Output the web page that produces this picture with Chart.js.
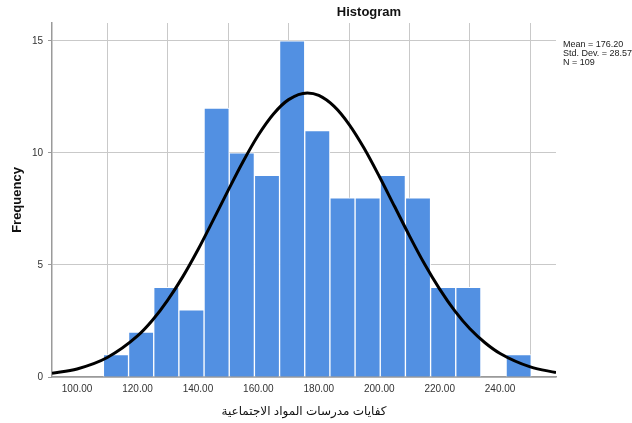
<!DOCTYPE html>
<html>
<head>
<meta charset="utf-8">
<script src="https://cdn.jsdelivr.net/npm/chart.js@4.4.1/dist/chart.umd.min.js"></script>
<style>
  html, body { margin: 0; padding: 0; background: #fff; }
  #wrap { width: 632px; height: 423px; position: relative; }
</style>
</head>
<body>
<div id="wrap"><canvas id="hist"></canvas></div>
<script>
// bin centres (width about 8.33) and their counts
const binCenters = [112.87, 121.2, 129.53, 137.86, 146.19, 154.52, 162.85, 171.18, 179.51,
  187.84, 196.17, 204.5, 212.83, 221.16, 229.49, 237.82, 246.15];
const binCounts = [1, 2, 4, 3, 12, 10, 9, 15, 11, 8, 8, 9, 8, 4, 4, 0, 1];

// normal curve
const curveX = [91.7, 100, 110, 120, 125, 130, 135, 140, 145, 150, 155, 160, 165, 170, 176.2,
  180, 185, 190, 195, 200, 205, 210, 215, 220, 225, 230, 235, 240, 250, 258.5];
const curveY = [0.17, 0.36, 0.87, 1.83, 2.54, 3.43, 4.48, 5.68, 6.99, 8.33, 9.63, 10.8, 11.74, 12.38, 12.68,
  12.57, 12.09, 11.28, 10.21, 8.96, 7.63, 6.3, 5.04, 3.92, 2.95, 2.15, 1.53, 1.05, 0.45, 0.2];

const xTicks = [100, 120, 140, 160, 180, 200, 220, 240];
const yTicks = [0, 5, 10, 15];
const statsLines = ["Mean = 176.20", "Std. Dev. = 28.57", "N = 109"];

const gridGray = "#c9c9c9";
const font = "'Liberation Sans', Arial, 'DejaVu Sans', sans-serif";

const textPlugin = {
  id: "texts",
  afterDraw(chart) {
    const ctx = chart.ctx;
    ctx.save();
    ctx.fillStyle = "#111";
    ctx.font = "bold 13px " + font;
    ctx.textAlign = "center";
    ctx.textBaseline = "middle";
    ctx.fillText("Histogram", 369, 12);
    ctx.font = "9px " + font;
    ctx.textAlign = "left";
    ctx.fillStyle = "#222";
    statsLines.forEach((s, i) => ctx.fillText(s, 563, 45 + i * 9));
    ctx.restore();
  },
};

new Chart(document.getElementById("hist"), {
  type: "bar",
  data: {
    datasets: [
      {
        type: "line",
        data: curveX.map((x, i) => ({ x, y: curveY[i] })),
        borderColor: "#000",
        borderWidth: 3,
        pointRadius: 0,
        cubicInterpolationMode: "monotone",
        order: 0,
      },
      {
        type: "bar",
        data: binCenters.map((x, i) => ({ x, y: binCounts[i] })),
        backgroundColor: "#5290e2",
        borderColor: "#ffffff",
        borderWidth: 1,
        borderSkipped: "bottom",
        categoryPercentage: 1,
        barPercentage: 1,
        order: 1,
      },
    ],
  },
  options: {
    responsive: true,
    maintainAspectRatio: false,
    animation: false,
    layout: { padding: { top: 23, right: 76, left: 0, bottom: 0 } },
    plugins: { legend: { display: false }, tooltip: { enabled: false } },
    scales: {
      x: {
        type: "linear",
        offset: false,
        min: 91.7,
        max: 258.5,
        afterBuildTicks: (s) => { s.ticks = xTicks.map((v) => ({ value: v })); },
        afterFit: (s) => { s.height = 46; },
        grid: { color: gridGray, lineWidth: 1, drawTicks: false },
        border: { color: "#9a9a9a", width: 1.5 },
        ticks: {
          padding: 6,
          color: "#333",
          font: { family: font, size: 10 },
          callback: (v) => v.toFixed(2),
          maxRotation: 0,
        },
        title: {
          display: true,
          text: "كفايات مدرسات المواد الاجتماعية",
          color: "#111",
          font: { family: font, size: 12 },
          padding: { top: 8 },
        },
      },
      y: {
        min: 0,
        max: 15.8,
        afterBuildTicks: (s) => { s.ticks = yTicks.map((v) => ({ value: v })); },
        afterFit: (s) => { s.width = 52; },
        grid: { color: gridGray, lineWidth: 1, drawTicks: true, tickLength: 4, tickColor: "#9a9a9a" },
        border: { color: "#9a9a9a", width: 1.5 },
        ticks: { padding: 5, color: "#333", font: { family: font, size: 10 } },
        title: {
          display: true,
          text: "Frequency",
          color: "#111",
          font: { family: font, size: 13, weight: "bold" },
          padding: { bottom: 0, top: 10 },
        },
      },
    },
  },
  plugins: [textPlugin],
});
</script>
</body>
</html>
